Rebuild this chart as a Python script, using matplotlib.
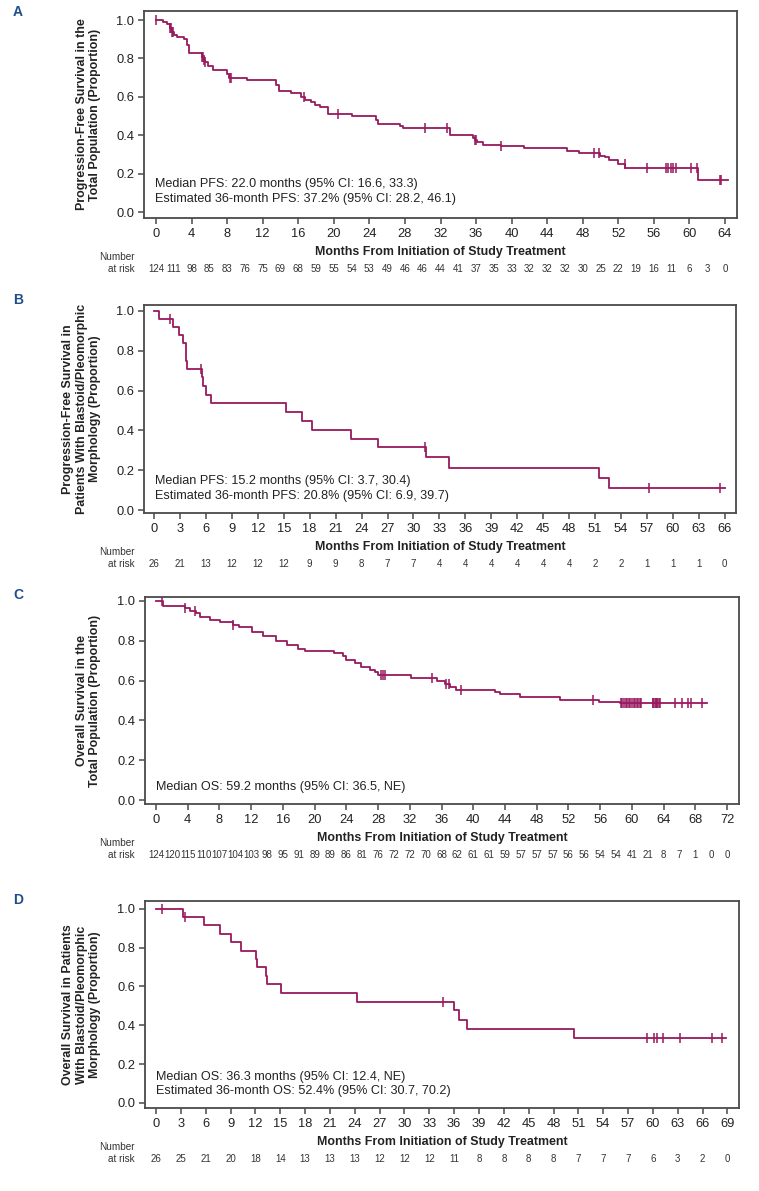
import numpy as np
import matplotlib
matplotlib.use("Agg")
import matplotlib.pyplot as plt
from matplotlib.transforms import blended_transform_factory

plt.rcParams['font.family'] = ['Liberation Sans', 'DejaVu Sans']

# ---------------- Data ----------------
# Panel A: PFS, total population
a_times = [0, 0.8, 1.2, 1.6, 1.8, 2.0, 2.4, 3.2, 3.5, 3.7, 5.2, 5.35, 5.5, 5.9, 6.4, 8.0, 8.2, 10.2,
           13.5, 13.8, 15.2, 16.3, 16.8, 17.4, 17.9, 18.4, 19.4, 22.0, 24.7, 25.0, 27.4, 27.8, 33.1,
           35.7, 35.9, 36.1, 36.8, 38.8, 41.4, 46.2, 47.6, 49.9, 50.5, 50.9, 52.0, 52.8, 61.0]
a_surv = [1.0, 0.99, 0.98, 0.96, 0.94, 0.92, 0.91, 0.90, 0.87, 0.83, 0.81, 0.79, 0.78, 0.76, 0.74, 0.72,
          0.70, 0.69, 0.66, 0.63, 0.62, 0.60, 0.585, 0.575, 0.56, 0.545, 0.51, 0.50, 0.48, 0.46, 0.45,
          0.44, 0.40, 0.385, 0.375, 0.365, 0.35, 0.345, 0.335, 0.32, 0.31, 0.295, 0.285, 0.27, 0.25,
          0.23, 0.17]
a_end = 64.3
a_censor = [0.0, 1.6, 1.7, 1.8, 1.9, 5.2, 5.3, 5.4, 5.5, 8.3, 8.4, 16.6, 20.5, 30.3, 32.7, 35.9, 36.0,
            38.8, 49.3, 49.8, 52.7, 55.2, 57.4, 57.6, 57.9, 58.2, 58.5, 60.2, 60.8, 63.4, 63.6]
a_risk = [124, 111, 98, 85, 83, 76, 75, 69, 68, 59, 55, 54, 53, 49, 46, 46, 44, 41, 37, 35, 33, 32, 32,
          32, 30, 25, 22, 19, 16, 11, 6, 3, 0]
a_ticks = list(range(0, 65, 4))
a_risk_times = list(range(0, 65, 2))

# Panel B: PFS, blastoid/pleomorphic
b_times = [0, 0.6, 2.2, 2.9, 3.4, 3.7, 3.85, 5.5, 5.7, 6.0, 6.55, 15.3, 17.1, 18.3, 22.8, 25.9, 31.4,
           34.1, 51.5, 52.6]
b_surv = [1.0, 0.96, 0.92, 0.88, 0.84, 0.75, 0.71, 0.667, 0.625, 0.58, 0.536, 0.491, 0.447, 0.402,
          0.357, 0.315, 0.265, 0.21, 0.159, 0.109]
b_end = 66.0
b_censor = [1.9, 5.4, 31.3, 57.2, 65.5]
b_risk = [26, 21, 13, 12, 12, 12, 9, 9, 8, 7, 7, 4, 4, 4, 4, 4, 4, 2, 2, 1, 1, 1, 0]
b_ticks = list(range(0, 67, 3))
b_risk_times = list(range(0, 67, 3))

# Panel C: OS, total population
c_times = [0, 0.9, 3.6, 4.3, 5.0, 5.5, 6.8, 8.1, 9.7, 10.4, 12.1, 13.5, 15.1, 16.5, 17.9, 18.8, 22.4,
           23.6, 24.0, 25.1, 25.9, 27.0, 27.6, 28.0, 32.1, 35.4, 36.4, 37.1, 37.8, 42.7, 43.4, 45.9,
           50.9, 55.8, 58.5]
c_surv = [1.0, 0.976, 0.963, 0.951, 0.938, 0.921, 0.905, 0.893, 0.88, 0.868, 0.846, 0.826, 0.801,
          0.779, 0.759, 0.749, 0.74, 0.724, 0.704, 0.687, 0.67, 0.655, 0.645, 0.63, 0.611, 0.598,
          0.583, 0.57, 0.553, 0.541, 0.531, 0.516, 0.503, 0.494, 0.486]
c_end = 69.5
c_censor = [0.7, 3.7, 4.9, 9.7, 28.4, 28.6, 28.9, 34.8, 36.6, 36.9, 38.4, 55.1,
            58.6, 58.8, 59.0, 59.2, 59.4, 59.6, 59.8, 60.0, 60.2, 60.4, 60.6, 60.8, 61.0, 61.2,
            62.6, 62.7, 62.9, 63.0, 63.1, 63.2, 63.4, 63.6, 65.4, 66.3, 67.1, 67.4, 68.8]
c_risk = [124, 120, 115, 110, 107, 104, 103, 98, 95, 91, 89, 89, 86, 81, 76, 72, 72, 70, 68, 62, 61,
          61, 59, 57, 57, 57, 56, 56, 54, 54, 41, 21, 8, 7, 1, 0, 0]
c_ticks = list(range(0, 73, 4))
c_risk_times = list(range(0, 73, 2))

# Panel D: OS, blastoid/pleomorphic
d_times = [0, 3.2, 5.8, 7.7, 9.1, 10.3, 12.1, 12.2, 13.3, 13.4, 15.1, 24.3, 36.0, 36.6, 37.5, 50.5]
d_surv = [1.0, 0.957, 0.918, 0.871, 0.828, 0.785, 0.741, 0.698, 0.655, 0.612, 0.565, 0.522, 0.48,
          0.428, 0.381, 0.333]
d_end = 68.8
d_censor = [0.7, 3.5, 34.6, 59.3, 60.1, 60.5, 61.2, 63.3, 67.1, 68.4]
d_risk = [26, 25, 21, 20, 18, 14, 13, 13, 13, 12, 12, 12, 11, 8, 8, 8, 8, 7, 7, 7, 6, 3, 2, 0]
d_ticks = list(range(0, 70, 3))
d_risk_times = list(range(0, 70, 3))

y_ticks = [0.0, 0.2, 0.4, 0.6, 0.8, 1.0]

# ---------------- Layout ----------------
W, H = 759, 1191
fig = plt.figure(figsize=(W / 100, H / 100), dpi=100)

CURVE = '#98195e'
SPINE = '#4a4a4a'
LETTER = '#1f4e8c'
NARROW = ['Liberation Sans Narrow', 'Liberation Sans']


def fx(px):
    return px / W


def fy(py):
    return 1 - py / H


panels = [
    dict(letter='A', letter_y=12, box=(144, 11, 737, 218), xlim=(-1.35, 65.35), ylim=(-0.03, 1.047),
         times=a_times, surv=a_surv, end=a_end, censor=a_censor, risk=a_risk, risk_t=a_risk_times,
         ticks=a_ticks,
         ylabel='Progression-Free Survival in the\nTotal Population (Proportion)',
         notes=['Median PFS: 22.0 months (95% CI: 16.6, 33.3)',
                'Estimated 36-month PFS: 37.2% (95% CI: 28.2, 46.1)'],
         note_y=[184, 199]),
    dict(letter='B', letter_y=300, box=(144, 305, 736, 513), xlim=(-1.16, 67.3), ylim=(-0.015, 1.03),
         times=b_times, surv=b_surv, end=b_end, censor=b_censor, risk=b_risk, risk_t=b_risk_times,
         ticks=b_ticks,
         ylabel='Progression-Free Survival in\nPatients With Blastoid/Pleomorphic\nMorphology (Proportion)',
         notes=['Median PFS: 15.2 months (95% CI: 3.7, 30.4)',
                'Estimated 36-month PFS: 20.8% (95% CI: 6.9, 39.7)'],
         note_y=[481, 496]),
    dict(letter='C', letter_y=595, box=(145, 597, 739, 804), xlim=(-1.39, 73.5), ylim=(-0.02, 1.02),
         times=c_times, surv=c_surv, end=c_end, censor=c_censor, risk=c_risk, risk_t=c_risk_times,
         ticks=c_ticks,
         ylabel='Overall Survival in the\nTotal Population (Proportion)',
         notes=['Median OS: 59.2 months (95% CI: 36.5, NE)'],
         note_y=[787]),
    dict(letter='D', letter_y=900, box=(145, 901, 739, 1108), xlim=(-1.33, 70.4), ylim=(-0.026, 1.04),
         times=d_times, surv=d_surv, end=d_end, censor=d_censor, risk=d_risk, risk_t=d_risk_times,
         ticks=d_ticks,
         ylabel='Overall Survival in Patients\nWith Blastoid/Pleomorphic\nMorphology (Proportion)',
         notes=['Median OS: 36.3 months (95% CI: 12.4, NE)',
                'Estimated 36-month OS: 52.4% (95% CI: 30.7, 70.2)'],
         note_y=[1077, 1091]),
]

for p in panels:
    l, t, r, b = p['box']
    ax = fig.add_axes([fx(l), fy(b), (r - l) / W, (b - t) / H])
    ax.set_xlim(*p['xlim'])
    ax.set_ylim(*p['ylim'])
    for s in ax.spines.values():
        s.set_color(SPINE)
        s.set_linewidth(1.3)
    ax.set_xticks(p['ticks'])
    ax.set_yticks(y_ticks)
    ax.set_yticklabels([f'{v:.1f}' for v in y_ticks])
    ax.tick_params(axis='both', colors=SPINE, labelcolor='#222222', labelsize=9.3,
                   length=4, width=1.1, pad=3)

    times = np.array(p['times'], dtype=float)
    surv = np.array(p['surv'], dtype=float)
    xs = np.append(times, p['end'])
    ys = np.append(surv, surv[-1])
    ax.step(xs, ys, where='post', color=CURVE, lw=1.3, zorder=3)
    cen = np.array(p['censor'], dtype=float)
    idx = np.searchsorted(times, cen, side='right') - 1
    ax.plot(cen, surv[idx], linestyle='none', marker='|', markersize=7.5, markeredgewidth=1.1,
            color=CURVE, zorder=4)

    # annotations
    for txt, yy in zip(p['notes'], p['note_y']):
        fig.text(fx(l + 11), fy(yy), txt, ha='left', va='center', fontsize=9.1, color='#222222')

    # y label
    fig.text(fx(101), fy((t + b) / 2), p['ylabel'], rotation=90, ha='right', va='center',
             multialignment='center', fontsize=8.9, fontweight='bold', color='#222222',
             linespacing=1.15)

    # x label
    fig.text(fx((l + r) / 2), fy(b + 34), 'Months From Initiation of Study Treatment',
             ha='center', va='center', fontsize=8.9, fontweight='bold', color='#222222')

    # panel letter
    fig.text(fx(18), fy(p['letter_y']), p['letter'], ha='center', va='center', fontsize=10,
             fontweight='bold', color=LETTER)

    # number at risk
    fig.text(fx(135), fy(b + 39), 'Number', ha='right', va='center', fontsize=7.2,
             color='#333333', family=NARROW)
    fig.text(fx(135), fy(b + 51), 'at risk', ha='right', va='center', fontsize=7.2,
             color='#333333', family=NARROW)
    trans = blended_transform_factory(ax.transData, fig.transFigure)
    for tt, n in zip(p['risk_t'], p['risk']):
        ax.text(tt, fy(b + 51), str(n), transform=trans, ha='center', va='center', fontsize=7.0,
                color='#333333', family=NARROW, clip_on=False)

fig.savefig('out.png', dpi=100)
